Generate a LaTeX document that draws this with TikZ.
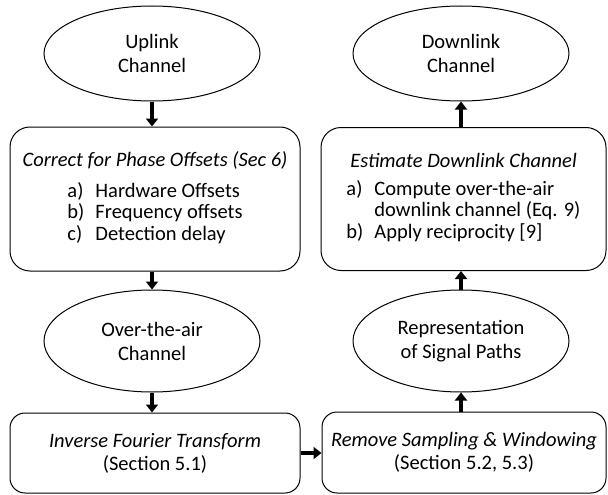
\documentclass[tikz,border=0pt]{standalone}
\usepackage{fontspec}
\setmainfont{Carlito}
\usetikzlibrary{shapes.geometric,arrows.meta}
\tikzset{
  chan/.style={draw, ellipse, line width=1pt, minimum width=216pt, minimum height=102pt,
    inner sep=0pt, align=center, font=\fontsize{20.5}{24}\selectfont},
  stage/.style={draw, rounded corners=20pt, line width=1pt, inner sep=0pt,
    align=center, font=\fontsize{20.5}{21.5}\selectfont},
  flow/.style={line width=4pt, -{Triangle[width=12pt,length=8pt]}}
}
\newcommand{\steplist}[1]{\begin{tabular}{@{}p{28pt}@{}l@{}}#1\end{tabular}}
\begin{document}
\begin{tikzpicture}[x=1pt, y=-1pt]
    \useasboundingbox (0,0) rectangle (608,495);
    % left column: uplink side
    \node[chan, minimum height=95pt] (up) at (152,53.5) {Uplink\\Channel};
    \node[stage, minimum width=290pt, minimum height=144pt] (corr) at (155,199)
        {\textit{Correct for Phase Offsets (Sec 6)}\\[12pt]
         \steplist{a) & Hardware Offsets\\ b) & Frequency offsets\\ c) & Detection delay}};
    \node[chan] (ota) at (152,341) {Over-the-air\\Channel};
    \node[stage, rounded corners=15pt, minimum width=290pt, minimum height=80pt,
        font=\fontsize{20.5}{23}\selectfont] (inv) at (155,453)
        {\textit{Inverse Fourier Transform}\\(Section 5.1)};
    % right column: downlink side
    \node[stage, rounded corners=15pt, minimum width=284pt, minimum height=81pt,
        font=\fontsize{20.5}{23}\selectfont] (rem) at (464,452.5)
        {\textit{Remove Sampling \& Windowing}\\(Section 5.2, 5.3)};
    \node[chan] (rep) at (461,341) {Representation\\of Signal Paths};
    \node[stage, minimum width=285pt, minimum height=143pt] (est) at (463.5,199)
        {\textit{Estimate Downlink Channel}\\[12pt]
         \steplist{a) & Compute over-the-air\\ & downlink channel (Eq. 9)\\ b) & Apply reciprocity [9]}};
    \node[chan, minimum height=95pt] (down) at (461,53.5) {Downlink\\Channel};
    % arrows
    \draw[flow] (up.south) -- (up.south |- corr.north);
    \draw[flow] (up.south |- corr.south) -- (ota.north);
    \draw[flow] (ota.south) -- (ota.south |- inv.north);
    \draw[flow] (inv.east) -- (inv.east -| rem.west);
    \draw[flow] (rep.south |- rem.north) -- (rep.south);
    \draw[flow] (rep.north) -- (rep.north |- est.south);
    \draw[flow] (down.south |- est.north) -- (down.south);
\end{tikzpicture}
\end{document}
